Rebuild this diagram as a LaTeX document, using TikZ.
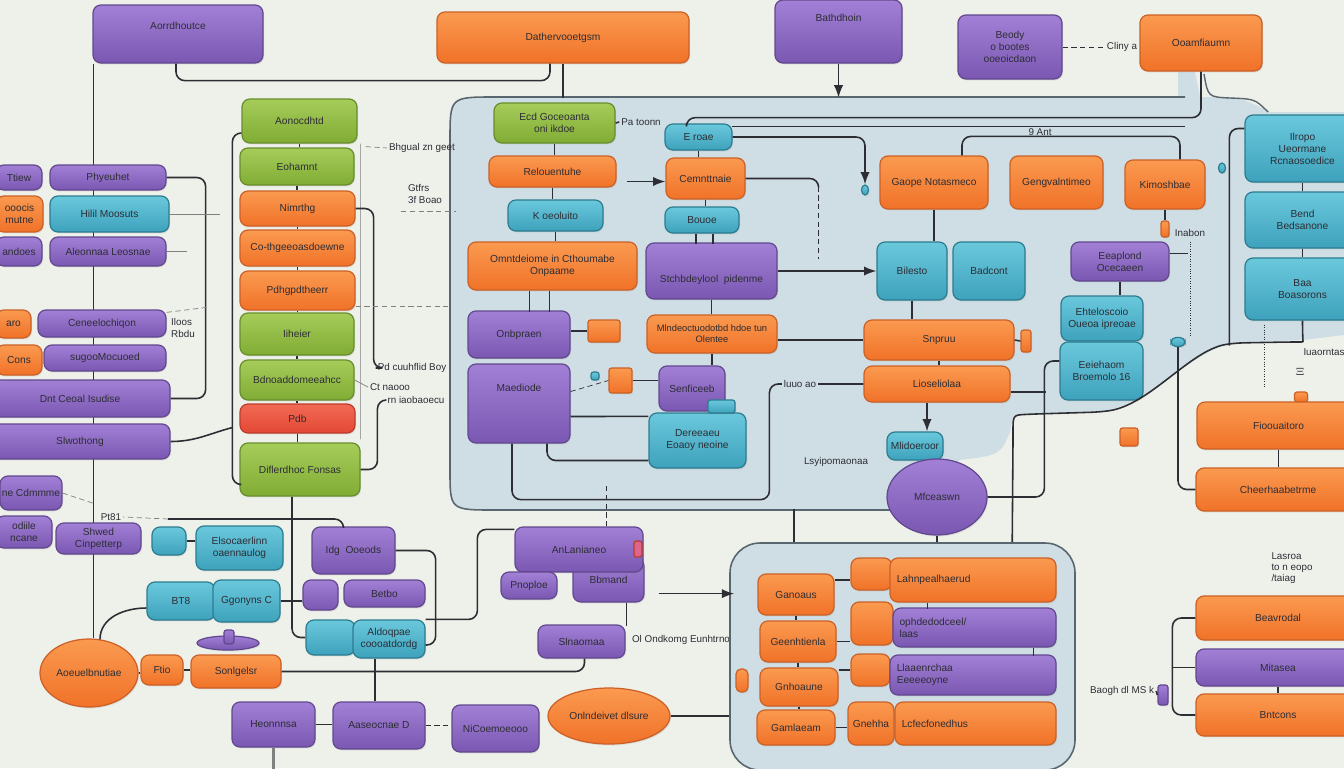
\documentclass[tikz,border=0pt]{standalone}
\usepackage{fontspec}
\setmainfont{Liberation Sans}
\usetikzlibrary{arrows.meta,positioning,calc,shapes.geometric,shadows}
\definecolor{ink}{RGB}{45,45,52}
\definecolor{bgc}{RGB}{238,240,234}
\definecolor{cfill}{RGB}{207,222,228}
\definecolor{cline}{RGB}{88,102,112}
\definecolor{purT}{RGB}{162,128,214}
\definecolor{purB}{RGB}{122,88,178}
\definecolor{purD}{RGB}{98,72,142}
\definecolor{oraT}{RGB}{250,154,80}
\definecolor{oraB}{RGB}{240,114,40}
\definecolor{oraD}{RGB}{204,96,38}
\definecolor{grnT}{RGB}{166,204,90}
\definecolor{grnB}{RGB}{128,172,52}
\definecolor{grnD}{RGB}{104,142,44}
\definecolor{teaT}{RGB}{106,200,220}
\definecolor{teaB}{RGB}{62,162,188}
\definecolor{teaD}{RGB}{44,124,144}
\definecolor{redT}{RGB}{242,106,84}
\definecolor{redB}{RGB}{226,72,54}
\definecolor{redD}{RGB}{188,60,44}
\definecolor{pnkc}{RGB}{222,100,140}
\pgfdeclarelayer{back}
\pgfsetlayers{back,main}

\tikzset{
  box/.style={rectangle,rounded corners=1.6mm,line width=0.7pt,align=center,inner sep=1pt,
    text=ink,font=\fontsize{5.8}{6.8}\selectfont,
    drop shadow={opacity=0.18,shadow xshift=0.6pt,shadow yshift=-0.8pt}},
  pbox/.style={box,draw=purD,top color=purT,bottom color=purB},
  obox/.style={box,draw=oraD,top color=oraT,bottom color=oraB},
  gbox/.style={box,draw=grnD,top color=grnT,bottom color=grnB},
  tbox/.style={box,draw=teaD,top color=teaT,bottom color=teaB},
  rbox/.style={box,draw=redD,top color=redT,bottom color=redB},
  sz/.style 2 args={minimum width=#1*0.02cm,minimum height=#2*0.02cm},
  lbl/.style={text=ink,font=\fontsize{5.6}{6.4}\selectfont,inner sep=1pt,align=left},
  wire/.style={draw=ink,line width=0.9pt,rounded corners=5pt},
  arrow/.style={wire,-Latex}
}

\begin{document}
\begin{tikzpicture}[x=0.02cm,y=-0.02cm]
\useasboundingbox (0,0) rectangle (1344,768);
\begin{pgfonlayer}{back}
\fill[bgc] (0,0) rectangle (1344,768);
% big panel
\fill[cfill] (450,140) .. controls (450,97) .. (495,97) -- (1178,97) -- (1178,72) -- (1195,72)
  -- (1200,97) .. controls (1240,97) .. (1270,112) -- (1344,112) -- (1344,335) -- (1303,340)
  -- (1235,343) .. controls (1190,350) and (1150,405) .. (1100,412) -- (1035,414)
  .. controls (1013,415) .. (1010,432) .. controls (1000,455) .. (960,460) -- (900,505)
  -- (900,510) -- (495,510) .. controls (450,510) .. (450,470) -- cycle;
\draw[cline,line width=0.9pt] (1185,97) -- (495,97) .. controls (450,97) .. (450,140) -- (450,470)
  .. controls (450,510) .. (495,510) -- (895,510);
\draw[cline,line width=0.8pt] (1204,74) .. controls (1208,97) .. (1230,98) .. controls (1255,99) .. (1268,112);
\end{pgfonlayer}

% top row
\node[pbox,sz={170}{58}] (aor) at (178,34) {Aorrdhoutce\\[3pt]~};
\node[obox,sz={252}{51}] (dat) at (563,37.5) {Dathervooetgsm};
\node[pbox,sz={127}{63}] (bat) at (838.5,31.5) {Bathdhoin\\[9pt]~};
\node[pbox,sz={104}{64}] (bdy) at (1010,47) {Beody\\o bootes\\ooeoicdaon};
\node[obox,sz={122}{56}] (oam) at (1201,43) {Ooamfiaumn};
\node[lbl] (lbcl) at (1122,47) {Cliny a};

% left edge
\node[pbox,sz={46}{25}] (tiw) at (19,177.5) {Ttiew};
\node[obox,sz={47}{36}] (ooc) at (19.5,214) {ooocis\\mutne};
\node[pbox,sz={46}{29}] (and) at (19,251.5) {andoes};
\node[obox,sz={35}{28}] (aro) at (13.5,324) {aro};
\node[obox,sz={46}{30}] (cns) at (19,360) {Cons};
\node[pbox,sz={62}{34}] (cne) at (31,493) {ne Cdmmme};
\node[pbox,sz={56}{32}] (odi) at (24,532) {odiile\\ncane};

% second column
\node[pbox,sz={116}{25}] (phy) at (108,177.5) {Phyeuhet};
\node[tbox,sz={119}{36}] (hil) at (109.5,214) {Hilil Moosuts};
\node[pbox,sz={116}{29}] (ale) at (108,251.5) {Aleonnaa Leosnae};
\node[pbox,sz={128}{27}] (cen) at (102,323.5) {Ceneelochiqon};
\node[pbox,sz={122}{26}] (sug) at (105,358) {sugooMocuoed};
\node[pbox,sz={180}{37}] (dnt) at (80,398.5) {Dnt Ceoal Isudise};
\node[pbox,sz={180}{35}] (slw) at (80,441.5) {Slwothong};
\node[pbox,sz={85}{31}] (shw) at (98.5,538.5) {Shwed\\Cinpetterp};
\node[lbl] (lbil) at (183,328) {Iloos\\Rbdu};

% green column
\node[gbox,sz={115}{44}] (aon) at (299.5,121) {Aonocdhtd};
\node[gbox,sz={114}{37}] (eoh) at (297,166.5) {Eohamnt};
\node[obox,sz={115}{35}] (nim) at (297.5,208.5) {Nimrthg};
\node[obox,sz={115}{36}] (cot) at (297.5,248) {Co-thgeeoasdoewne};
\node[obox,sz={115}{39}] (pdh) at (297.5,290.5) {Pdhgpdtheerr};
\node[gbox,sz={114}{42}] (iih) at (297,334) {Iiheier};
\node[gbox,sz={114}{40}] (bdn) at (297,380) {Bdnoaddomeeahcc};
\node[rbox,sz={115}{29}] (pdb) at (297.5,418.5) {Pdb};
\node[gbox,sz={120}{53}] (dif) at (300,469.5) {Diflerdhoc Fonsas};
\node[lbl] (lbbh) at (422,148) {Bhgual zn geet};
\node[lbl] (lbgt) at (425,194) {Gtfrs\\3f Boao};
\node[lbl] (lbpd) at (412,368) {Pd cuuhflid Boy};
\node[lbl] (lbcn) at (390,387) {Ct naooo};
\node[lbl] (lbrn) at (416,400) {rn iaobaoecu};

% lower left
\node[tbox,sz={34}{28}] (ts1) at (169,541) {};
\node[tbox,sz={87}{44}] (els) at (239.5,548) {Elsocaerlinn\\oaennaulog};
\node[tbox,sz={68}{38}] (bt8) at (181,601) {BT8};
\node[tbox,sz={67}{42}] (ggo) at (246.5,601) {Ggonyns C};
\node[pbox,sz={83}{47}] (idg) at (353.5,550.5) {Idg\ \ Ooeods};
\node[pbox,sz={35}{30}] (ps1) at (320.5,595) {};
\node[pbox,sz={81}{27}] (bet) at (384.5,593.5) {Betbo};
\node[tbox,sz={49}{35}] (ts2) at (330.5,637.5) {};
\node[tbox,sz={72}{38}] (ald) at (389,639) {Aldoqpae\\coooatdordg};
\node[obox,ellipse,sz={98}{68}] (aoe) at (89,673) {Aoeuelbnutiae};
\node[obox,sz={42}{30}] (fti) at (162,670) {Ftio};
\node[obox,sz={90}{33}] (son) at (236,671.5) {Sonlgelsr};
\node[pbox,sz={83}{45}] (heo) at (273.5,724.5) {Heonnnsa};
\node[pbox,sz={92}{47}] (aas) at (379,725.5) {Aaseocnae D};
\node[pbox,sz={87}{47}] (nic) at (495.5,728.5) {NiCoemoeooo};
\node[pbox,ellipse,sz={62}{14}] (hat) at (228,643) {};
\node[pbox,sz={10}{14},rounded corners=0.5mm] (hatk) at (229,637) {};
\node[lbl] (lbpt) at (111,517) {Pt81};

% middle lower
\node[pbox,sz={71}{44}] (bbm) at (608.5,580) {Bbmand};
\node[pbox,sz={128}{45}] (anl) at (579,549.5) {AnLanianeo};
\node[box,draw=redD,fill=pnkc,sz={8}{16},rounded corners=0.5mm] (pnk) at (638,549) {};
\node[pbox,sz={56}{27}] (pno) at (529,585.5) {Pnoploe};
\node[pbox,sz={87}{33}] (sln) at (581.5,641.5) {Slnaomaa};
\node[obox,ellipse,sz={122}{56}] (onl) at (609,716) {Onlndeivet dlsure};
\node[lbl] (lbol) at (681,640) {Ol Ondkomg Eunhtrno};

% lower panel
\node[draw=cline,fill=cfill,line width=0.9pt,rounded corners=6mm,sz={345}{227}] (c2box) at (902.5,656.5) {};
\node[obox,sz={76}{41}] (gan) at (796,594.5) {Ganoaus};
\node[obox,sz={76}{41}] (gee) at (798,641.5) {Geenhtienla};
\node[obox,sz={78}{38}] (gnh) at (799,687) {Gnhoaune};
\node[obox,sz={78}{35}] (gam) at (796,727.5) {Gamlaeam};
\node[obox,sz={12}{23},rounded corners=1mm] (os1) at (742,680.5) {};
\node[obox,sz={41}{32}] (oa1) at (871.5,574) {};
\node[obox,sz={166}{44},text width=3.05cm,align=left] (lah) at (973,580) {Lahnpealhaerud};
\node[obox,sz={42}{43}] (oa2) at (872,623.5) {};
\node[pbox,sz={163}{39},text width=3cm,align=left] (phd) at (974.5,627.5) {ophdedodceel/\\laas};
\node[obox,sz={39}{32}] (oa3) at (870.5,670) {};
\node[pbox,sz={166}{40},text width=3.05cm,align=left] (lla) at (973,675) {Llaaenrchaa\\Eeeeeoyne};
\node[obox,sz={46}{43}] (gne) at (871,723.5) {Gnehha};
\node[obox,sz={161}{43},text width=2.95cm,align=left] (lcf) at (975.5,723.5) {Lcfecfonedhus};

% big panel, left part
\node[gbox,sz={121}{40}] (ecd) at (554.5,123) {Ecd Goceoanta\\oni ikdoe};
\node[obox,sz={127}{31}] (rel) at (552.5,171.5) {Relouentuhe};
\node[tbox,sz={95}{31}] (koe) at (555.5,215.5) {K oeoluito};
\node[obox,sz={169}{48}] (omn) at (552.5,266) {Omntdeiome in Cthoumabe\\Onpaame};
\node[pbox,sz={102}{47}] (onb) at (519,334.5) {Onbpraen};
\node[obox,sz={32}{22},rounded corners=0.5mm] (os2) at (604,331) {};
\node[pbox,sz={102}{79}] (mae) at (519,403.5) {Maediode\\[11pt]~};
\node[tbox,sz={8}{8},rounded corners=0.5mm] (ts3) at (595,376) {};
\node[obox,sz={23}{25},rounded corners=0.5mm] (os3) at (620.5,380.5) {};
\node[tbox,sz={67}{26}] (ero) at (698.5,137) {E roae};
\node[obox,sz={79}{41}] (cem) at (705.5,178.5) {Cemnttnaie};
\node[tbox,sz={74}{26}] (bou) at (702,220) {Bouoe};
\node[pbox,sz={131}{56}] (stc) at (711.5,271) {~\\[8pt]Stchbdeylool\ \ pidenme};
\node[obox,sz={130}{38},font=\fontsize{5.3}{6.3}\selectfont] (mln) at (712,334) {Mlndeoctuodotbd hdoe tun\\Olentee};
\node[pbox,sz={66}{45}] (sen) at (692,388.5) {Senficeeb};
\node[tbox,sz={97}{55}] (der) at (697.5,440.5) {Dereeaeu\\Eoaoy neoine};
\node[tbox,sz={27}{13},rounded corners=0.5mm] (tdb) at (721.5,406.5) {};
\node[lbl] (lbpa) at (641,122) {Pa toonn};

% big panel, right part
\node[obox,sz={108}{53}] (gao) at (934,182.5) {Gaope Notasmeco};
\node[obox,sz={93}{53}] (gen) at (1056.5,182.5) {Gengvalntimeo};
\node[obox,sz={80}{49}] (kim) at (1165,184.5) {Kimoshbae};
\node[tbox,sz={70}{58}] (bil) at (912,271) {Bilesto};
\node[tbox,sz={72}{58}] (bad) at (989,271) {Badcont};
\node[pbox,sz={98}{39}] (eea) at (1120,261.5) {Eeaplond\\Ocecaeen};
\node[tbox,sz={82}{45}] (eht) at (1102,318.5) {Ehteloscoio\\Oueoa ipreoae};
\node[tbox,sz={83}{58}] (eei) at (1101.5,371) {Eeiehaom\\Broemolo 16};
\node[obox,sz={150}{40}] (snp) at (939,340) {Snpruu};
\node[obox,sz={10}{22},rounded corners=0.5mm] (os4) at (1026,341) {};
\node[obox,sz={146}{36}] (lio) at (937,384) {Lioseliolaa};
\node[tbox,sz={56}{28}] (mli) at (915,446) {Mlidoeroor};
\node[pbox,ellipse,sz={100}{76}] (mfc) at (937,497) {Mfceaswn};
\node[tbox,ellipse,sz={7}{10}] (tdr1) at (865,190) {};
\node[tbox,ellipse,sz={7}{10}] (tdr2) at (1222,168) {};
\node[tbox,sz={14}{9},rounded corners=1mm] (tcap) at (1178,342) {};
\node[obox,sz={8}{16},rounded corners=0.5mm] (os6) at (1165,229) {};
\node[obox,sz={18}{18},rounded corners=0.5mm] (os5) at (1129,437) {};
\node[lbl] (lbly) at (836,462) {Lsyipomaonaa};
\node[lbl] (lbin) at (1190,233) {Inabon};
\node[lbl] (lb9a) at (1040,132) {9 Ant};

% right column
\node[tbox,sz={115}{67}] (ilr) at (1302.5,148.5) {Ilropo\\Ueormane\\Rcnaosoedice};
\node[tbox,sz={115}{56}] (ben) at (1302.5,220) {Bend\\Bedsanone};
\node[tbox,sz={115}{62}] (baa) at (1302.5,289) {Baa\\Boasorons};
\node[lbl] (lbiu) at (1324,352) {Iuaorntas};
\node[lbl] (lbxi) at (1300,372) {$\Xi$};
\node[obox,sz={13}{10},rounded corners=0.5mm] (otab) at (1301,397) {};
\node[obox,sz={163}{47}] (fio) at (1278.5,425.5) {Fioouaitoro};
\node[obox,sz={164}{43}] (che) at (1278,489.5) {Cheerhaabetrme};
\node[lbl] (lbla) at (1292,568) {Lasroa\\to n eopo\\/taiag};
\node[obox,sz={164}{44}] (bea) at (1278,618) {Beavrodal};
\node[pbox,sz={164}{37}] (mit) at (1278,667.5) {Mitasea};
\node[obox,sz={164}{42}] (bnt) at (1278,715) {Bntcons};
\node[lbl] (lbbg) at (1122,691) {Baogh dl MS k};
\node[pbox,sz={10}{20},rounded corners=0.5mm] (ptub) at (1163,695) {};

% wires behind the boxes
\begin{pgfonlayer}{back}
\draw[wire] ($(aor.south west)+(1,0)$) -- ($(aor.south west |- aoe.north)+(1,0)$);
\draw[wire] ($(dif.south)+(-8,0)$) |- (ts2.west);
\end{pgfonlayer}

% top wires
\draw[wire] ($(aor.south)+(-2,0)$) -- ++(0,17) -| ($(dat.south)+(-13,0)$);
\draw[wire] (dat.south) -- ++(0,34);
\draw[arrow] (bat.south) -- ++(0,34);
\draw[densely dashed,ink,thin] (bdy.east) -- (lbcl.west);
\draw[wire] ($(ero.north west)+(22,0)$) |- ($(oam.south)+(0,46)$) -- (oam.south);
\draw[wire] ($(ero.north east)+(-1,3)$) -- ++(453,0);
\draw[arrow] (ero.east) -| (tdr1.north);
\draw[wire] ($(gao.north)+(28,0)$) |- ($(kim.north)+(15,-23)$) -- ($(kim.north)+(15,0)$);

% big panel, left part
\draw[wire] (ecd.east) -- (lbpa.west);
\draw[wire] (ecd.south) -- (ecd.south |- rel.north);
\draw[wire] (rel.south) -- (rel.south |- koe.north);
\draw[wire] (koe.south) -- (koe.south |- omn.north);
\draw[wire] ($(omn.south)+(-23,0)$) -- ++(0,21);
\draw[wire] ($(omn.south)+(-3,0)$) -- ++(0,21);
\draw[wire] (os2.west -| onb.east) -- (os2.west);
\draw[wire] ($(mae.east)+(0,13)$) -- ($(der.north west)+(0,4)$);
\draw[wire] ($(mae.south)+(28,0)$) |- ($(der.west)+(0,20)$);
\draw[wire] ($(mae.south)+(-7,0)$) -- ++(0,56) -| ($(lio.west)+(-94,0)$) -- (lio.west);
\node[lbl,fill=cfill] (lbuo) at (800,384) {luuo ao};
\draw[densely dashed,ink,thin] ($(mae.east)+(0,-12)$) -- (os3.west);
\draw[wire] (os3.east) -- (os3.east -| sen.west);
\draw[arrow] ($(cem.west)+(-38,3)$) -- ($(cem.west)+(0,3)$);
\draw[wire] (cem.east) -- ++(73,0) -- ++(0,8);
\draw[densely dashed,ink,thin] ($(cem.east)+(73,8)$) -- ++(0,72);
\draw[wire] (ero.south) -- (ero.south |- cem.north);
\draw[wire] (cem.south) -- (cem.south |- bou.north);
\draw[wire] ($(bou.south)+(-6,0)$) -- ++(0,10);
\draw[wire] ($(bou.south)+(11,0)$) -- ++(0,10);
\draw[arrow] (stc.east) -- (stc.east -| bil.west);
\draw[wire] (stc.south) -- (stc.south |- mln.north);
\draw[wire] (snp.west -| mln.east) -- (snp.west);
\draw[wire] (mln.south) -- (mln.south |- sen.north);

% big panel, right part
\draw[wire] (gao.south) -- (gao.south |- bil.north);
\draw[wire] (bil.south) -- (bil.south |- snp.north);
\draw[wire] (snp.south) -- (snp.south |- lio.north);
\draw[arrow] ($(lio.south)+(-10,0)$) -- ($(lio.south |- mli.north)+(-10,0)$);
\draw[wire] (snp.east) -- (os4.west);
\draw[wire] (mfc.east) -| ($(eei.west)+(-15,-10)$) -- ($(eei.west)+(0,-10)$);
\draw[wire] ($(lio.east)+(0,8)$) -- ++(35,0);
\draw[wire] (kim.south) -- (os6.north);
\draw[wire] (eea.south) -- (eea.south |- eht.north);
\draw[wire] ($(eea.east)+(0,-8)$) -- ++(18,0);
\draw[densely dotted,ink] ($(eea.east)+(21,-20)$) -- ++(0,95);
\draw[wire] (tcap.south) |- (che.west);
\draw[densely dotted,ink] ($(baa.south west)+(20,4)$) -- ++(0,62);
\draw[wire] ($(ilr.west)+(0,-20)$) -- ++(-15,0) -- ++(0,217);
\draw[wire] (baa.south) -- ++(0,12) .. controls (1303,342) .. (1288,342) -- (1235,343)
  .. controls (1190,350) and (1150,405) .. (1100,412) -- (1035,414)
  .. controls (1013,415) .. (1013,440) -- ($(c2box.north west)+(283,0)$);
\draw[wire] (ilr.south) -- (ilr.south |- ben.north);
\draw[wire] (ben.south) -- (ben.south |- baa.north);
\draw[wire] (fio.south) -- (fio.south |- che.north);
\draw[wire] (bea.west) -- ++(-23,0) |- (bnt.west);
\draw[wire] (mit.west) -- ++(-23,0);
\draw[wire] (mit.south) -- (mit.south |- bnt.north);
\draw[wire] (lbbg.east) -- (ptub.west);

% left side
\draw[wire] (phy.east) -- ++(39,0) |- (dnt.east);
\draw[gray,thin] (hil.east) -- ++(50,0);
\draw[gray,thin] (ale.east) -- ++(20,0);
\draw[densely dashed,gray,thin] ($(cen.north east)+(0,3)$) -- ++(40,-5);
\draw[densely dashed,gray,thin] (cne.east) -- ++(30,10);
\draw[wire] (slw.east) to[out=0,in=195] ($(pdb.west)+(-7,9)$);
\draw[wire] ($(aon.west)+(0,12)$) -| ($(dif.west)+(-7,15)$) -- ($(dif.west)+(0,15)$);
\draw[gray,thin] ($(aon.south east)+(3,0)$) -- ($(dif.north east)+(0,-3)$);
\draw[wire] (nim.east) -- ++(18,0) |- (lbpd.west);
\draw[wire] (dif.east) -| ($(lbrn.west)+(-8,0)$) -- (lbrn.west);
\draw[gray,thin] (bdn.east) -- (lbcn.west);
\draw[densely dashed,gray] ($(aon.south east)+(8,3)$) -- (lbbh.west);
\draw[densely dashed,gray,thin] ($(lbgt.south west)+(-5,6)$) -- ++(55,0);
\draw[densely dashed,gray,thin] ($(pdh.east)+(0,16)$) -- ++(92,0);
\draw[wire] (aon.south) -- (aon.south |- eoh.north);
\draw[wire] (eoh.south) -- (eoh.south |- nim.north);
\draw[wire] (nim.south) -- (nim.south |- cot.north);
\draw[wire] (cot.south) -- (cot.south |- pdh.north);
\draw[wire] (pdh.south) -- (pdh.south |- iih.north);
\draw[wire] (iih.south) -- (iih.south |- bdn.north);
\draw[wire] (bdn.south) -- (bdn.south |- pdb.north);
\draw[wire] (pdb.south) -- (pdb.south |- dif.north);

% lower left
\draw[wire] ($(idg.north)+(-10,0)$) |- ($(lbpt.east)+(45,2)$);
\draw[densely dashed,gray,thin] ($(lbpt.east)+(45,2)$) -- (lbpt.east);
\draw[wire] (ts1.east) -- (ts1.east -| els.west);
\draw[wire] (ggo.east) -- (ggo.east -| ps1.west);
\draw[wire] (idg.east) -- ++(40,0) |- ($(ald.east)+(0,6)$);
\draw[wire] (ald.north east) -| ($(anl.north west)+(-37,3)$) -- ($(anl.north west)+(0,3)$);
\draw[wire] (son.east) -| ($(sln.south)+(3,0)$);
\draw[wire] ($(ald.south)+(-14,0)$) -- ($(aas.north)+(-4,0)$);
\draw[wire] (heo.east) -- (heo.east -| aas.west);
\draw[densely dashed,ink,thin] (aas.east) -- (aas.east -| nic.west);
\draw[gray,line width=2pt] (heo.south) -- ++(0,21);
\draw[wire] ($(aoe.north)+(11,1)$) to[out=90,in=180] ($(bt8.west)+(0,7)$);
\draw[wire] (aoe.east) -- (aoe.east -| fti.west);
\draw[wire] (fti.east) -- (fti.east -| son.west);

% middle lower
\draw[wire] ($(bbm.south east)+(-18,0)$) -- ++(0,23);
\draw[arrow] ($(bbm.south east)+(14,-9)$) -- ($(c2box.west |- bbm.south east)+(5,-9)$);
\draw[wire] (onl.east) -- (onl.east -| c2box.west);
\draw[wire] ($(c2box.north west)+(65,0)$) -- ++(0,-33);
\draw[wire] (mfc.south) -- (mfc.south |- c2box.north);
\draw[densely dashed,ink] ($(anl.north)+(27,0)$) -- ++(0,-42);

% lower panel
\draw[wire] ($(oa1.west -| gan.east)+(0,6)$) -- ($(oa1.west)+(0,6)$);
\draw[wire] (gee.east) -- (gee.east -| oa2.west);
\draw[wire] (oa3.west -| gnh.east) -- (oa3.west);
\draw[wire] (gam.east) -- (gam.east -| gne.west);
\draw[wire] (gan.south) -- (gan.south |- gee.north);
\draw[wire] (gee.south) -- (gee.south |- gnh.north);
\draw[wire] (gnh.south) -- (gnh.south |- gam.north);
\draw[wire] ($(lah.south west)+(38,0)$) -- ++(0,6);
\draw[wire] ($(phd.south east)+(-23,0)$) -- ++(0,8);
\end{tikzpicture}
\end{document}
